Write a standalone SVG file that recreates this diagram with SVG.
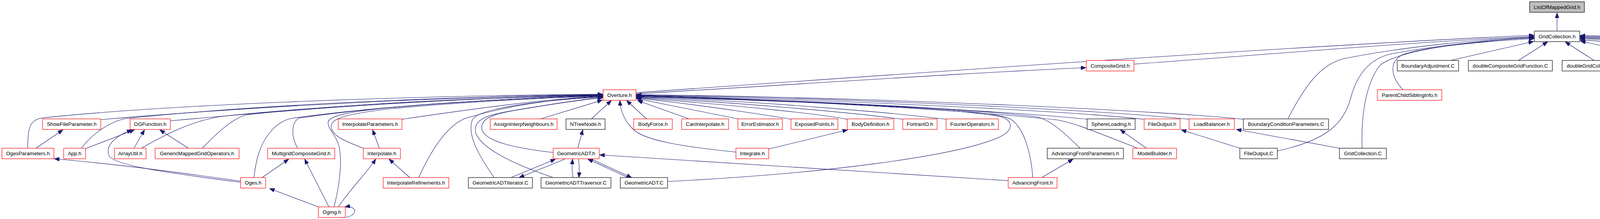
<svg xmlns="http://www.w3.org/2000/svg" width="5423" height="560" viewBox="0 0 5423 560">
<defs>
<marker id="ah" markerUnits="userSpaceOnUse" markerWidth="14" markerHeight="11" refX="13" refY="5" orient="auto">
<path d="M0,0 L13,5 L0,10 z" fill="#191970" stroke="#191970" stroke-width="1"/>
</marker>
<style>
.e{fill:none;stroke:#191970;stroke-width:1.1;marker-end:url(#ah)}
.n rect{fill:#ffffff;stroke-width:1.2}
.r rect{stroke:#ff0000}
.b rect{stroke:#000000}
.g rect{fill:#bfbfbf;stroke:#000000}
.n text{font-family:"Liberation Sans",Arial,Helvetica,sans-serif;font-size:13.3px;fill:#000000;text-anchor:middle}
</style>
</defs>
<rect width="5423" height="560" fill="#ffffff"/>
<g id="edges">
<path class="e" d="M3986,79 L3986,33"/>
<path class="e" d="M1628,237 C2300,190 3300,118 3927,90"/>
<path class="e" d="M1628,240 C2100,212 2500,185 2780,173"/>
<path class="e" d="M2903,164 C3300,135 3650,105 3927,93"/>
<path class="e" d="M3297,304 C3340,220 3380,165 3440,150 C3600,118 3800,100 3927,95"/>
<path class="e" d="M3270,386 C3390,360 3440,320 3458,250 C3475,185 3510,150 3560,138 C3700,112 3850,100 3927,96"/>
<path class="e" d="M3487,379 C3484,300 3495,220 3530,170 C3550,148 3620,130 3700,118 C3800,105 3880,98 3927,97"/>
<path class="e" d="M3591,229 C3560,195 3555,160 3590,140 C3650,118 3820,104 3927,99"/>
<path class="e" d="M3716,154 L3926,106"/>
<path class="e" d="M3888,154 L3962,107"/>
<path class="e" d="M4080,154 L4007,107"/>
<path class="e" d="M4269,154 L4046,105"/>
<path class="e" d="M4454,154 C4350,130 4150,108 4045,102"/>
<path class="e" d="M4672,154 C4500,125 4200,104 4045,99"/>
<path class="e" d="M4884,154 C4700,120 4300,102 4045,97"/>
<path class="e" d="M5090,156 C5050,135 4400,105 4045,95"/>
<path class="e" d="M5194,156 C5150,135 4450,102 4045,93"/>
<path class="e" d="M5333,156 C5300,130 4500,100 4045,91"/>
<path class="e" d="M71,379 C71,330 75,308 105,302 C400,270 1000,245 1543,241"/>
<path class="e" d="M258,306 C500,285 1000,250 1543,241.5"/>
<path class="e" d="M208,379 C230,350 270,315 321,303 C600,275 1000,250 1543,242"/>
<path class="e" d="M436,309 C700,285 1100,252 1543,242.5"/>
<path class="e" d="M362,379 C430,340 500,305 580,296 C800,275 1100,252 1543,243"/>
<path class="e" d="M518,379 C560,335 600,300 634,293 C850,270 1150,252 1543,243.5"/>
<path class="e" d="M650,454 C655,410 665,370 690,340 C710,315 730,305 750,302 C950,275 1200,255 1543,244"/>
<path class="e" d="M762,379 C745,350 745,315 765,302 C950,275 1200,255 1543,244.5"/>
<path class="e" d="M855,529 C868,480 876,420 869,379 C862,345 838,330 840,312 C843,295 900,285 1000,275 C1200,258 1400,248 1543,245"/>
<path class="e" d="M930,379 C880,360 845,345 848,320 C852,300 900,290 1000,278 C1200,260 1400,250 1543,245.5"/>
<path class="e" d="M1029,305 C1200,280 1400,252 1543,246"/>
<path class="e" d="M1072,454 C1110,370 1150,320 1190,303 C1300,270 1420,252 1543,247"/>
<path class="e" d="M1265,454 C1220,390 1195,340 1210,305 C1230,275 1400,255 1543,248"/>
<path class="e" d="M1416,454 C1330,425 1235,385 1218,340 C1210,310 1240,295 1300,285 C1400,268 1480,255 1543,249"/>
<path class="e" d="M1416,390 C1330,380 1250,365 1235,335 C1225,305 1260,292 1320,282 C1420,265 1490,255 1543,250"/>
<path class="e" d="M1384,304 L1542,256"/>
<path class="e" d="M1514,304 L1565,257"/>
<path class="e" d="M1884,389 C1750,375 1650,360 1620,330 C1595,305 1588,280 1587,257"/>
<path class="e" d="M1655,304 L1604,257"/>
<path class="e" d="M1764,304 L1632,257"/>
<path class="e" d="M1889,304 L1629,252"/>
<path class="e" d="M2025,305 C2010,302 1800,268 1629,251"/>
<path class="e" d="M2169,305 C2100,292 1900,270 1629,250"/>
<path class="e" d="M2311,305 C2200,290 1900,262 1629,249"/>
<path class="e" d="M2422,305 C2300,290 1950,258 1629,248"/>
<path class="e" d="M1709,464 C2100,445 2450,400 2560,350 C2600,330 2590,305 2560,298 C2400,270 1900,255 1629,247"/>
<path class="e" d="M2644,454 C2640,400 2625,330 2588,305 C2560,290 2450,280 2300,272 C2000,258 1800,250 1629,246"/>
<path class="e" d="M2765,379 C2730,345 2690,305 2650,298 C2400,270 1900,252 1629,245.5"/>
<path class="e" d="M2912,379 C2800,335 2740,310 2700,306 C2400,275 1900,252 1629,245"/>
<path class="e" d="M2783,305 C2600,285 2000,255 1629,244"/>
<path class="e" d="M2929,305 C2700,280 2100,255 1629,243.5"/>
<path class="e" d="M3044,305 C2800,280 2200,252 1629,243"/>
<path class="e" d="M3183,305 C3000,285 2300,250 1629,242"/>
<path class="e" d="M616,463 C450,440 300,420 139,406"/>
<path class="e" d="M616,466 C450,445 300,425 280,400 C268,375 290,350 338,332"/>
<path class="e" d="M219,380 L344,332"/>
<path class="e" d="M343,379 L370,332"/>
<path class="e" d="M482,379 L409,332"/>
<path class="e" d="M92,379 L161,332"/>
<path class="e" d="M671,454 L739,407"/>
<path class="e" d="M815,529 L690,482"/>
<path class="e" d="M842,529 L780,407"/>
<path class="e" d="M866,529 C900,480 940,440 962,407"/>
<path class="e" d="M870,556 C900,558 910,545 908,538 C905,530 895,527 883,529"/>
<path class="e" d="M971,379 L954,332"/>
<path class="e" d="M1049,454 L996,407"/>
<path class="e" d="M1479,379 L1492,332"/>
<path class="e" d="M1308,454 L1422,407"/>
<path class="e" d="M1446,407 L1329,454"/>
<path class="e" d="M1467,454 C1464,440 1464,425 1466,407"/>
<path class="e" d="M1481,407 C1483,420 1483,440 1482,454"/>
<path class="e" d="M1608,454 L1505,407"/>
<path class="e" d="M1514,407 L1617,454"/>
<path class="e" d="M2581,462 L1535,396"/>
<path class="e" d="M1968,381 L2170,332"/>
<path class="e" d="M2667,454 L2747,407"/>
<path class="e" d="M2935,379 L2868,332"/>
<path class="e" d="M3174,379 L3024,332"/>
<path class="e" d="M3429,379 L3165,331"/>
</g>
<g id="nodes">
<g id="n_ListOfMappedGrid_h" class="n g"><rect x="3916" y="4.5" width="140" height="27"/><text x="3986" y="22.5">ListOfMappedGrid.h</text></g>
<g id="n_GridCollection_h" class="n b"><rect x="3928" y="79.5" width="116" height="27"/><text x="3986" y="97.5">GridCollection.h</text></g>
<g id="n_CompositeGrid_h" class="n r"><rect x="2781" y="154.5" width="122" height="27"/><text x="2842" y="172.5">CompositeGrid.h</text></g>
<g id="n_BoundaryAdjustment_C" class="n b"><rect x="3577" y="154.5" width="157" height="27"/><text x="3655.5" y="172.5">BoundaryAdjustment.C</text></g>
<g id="n_doubleCompositeGridFunction_C" class="n b"><rect x="3759" y="154.5" width="215" height="27"/><text x="3866.5" y="172.5">doubleCompositeGridFunction.C</text></g>
<g id="n_doubleGridCollectionFunction_C" class="n b"><rect x="3999" y="154.5" width="211" height="27"/><text x="4104.5" y="172.5">doubleGridCollectionFunction.C</text></g>
<g id="n_floatCompositeGridFunction_C" class="n b"><rect x="4233" y="154.5" width="200" height="27"/><text x="4333" y="172.5">floatCompositeGridFunction.C</text></g>
<g id="n_floatGridCollectionFunction_C" class="n b"><rect x="4456" y="154.5" width="195" height="27"/><text x="4553.5" y="172.5">floatGridCollectionFunction.C</text></g>
<g id="n_intCompositeGridFunction_C" class="n b"><rect x="4676" y="154.5" width="187" height="27"/><text x="4769.5" y="172.5">intCompositeGridFunction.C</text></g>
<g id="n_intGridCollectionFunction_C" class="n b"><rect x="4887" y="154.5" width="181" height="27"/><text x="4977.5" y="172.5">intGridCollectionFunction.C</text></g>
<g id="n_residual_C" class="n b"><rect x="5092" y="154.5" width="81" height="27"/><text x="5132.5" y="172.5">residual.C</text></g>
<g id="n_contour3dOpt_C" class="n b"><rect x="5196" y="154.5" width="116" height="27"/><text x="5254" y="172.5">contour3dOpt.C</text></g>
<g id="n_PlotStuff_C" class="n b"><rect x="5335" y="154.5" width="82" height="27"/><text x="5376" y="172.5">PlotStuff.C</text></g>
<g id="n_Overture_h" class="n r"><rect x="1544" y="229.5" width="84" height="27"/><text x="1586" y="247.5">Overture.h</text></g>
<g id="n_ParentChildSiblingInfo_h" class="n r"><rect x="3526" y="229.5" width="165" height="27"/><text x="3608.5" y="247.5">ParentChildSiblingInfo.h</text></g>
<g id="n_ShowFileParameter_h" class="n r"><rect x="109" y="304" width="149" height="27"/><text x="183.5" y="322">ShowFileParameter.h</text></g>
<g id="n_OGFunction_h" class="n r"><rect x="333" y="304" width="103" height="27"/><text x="384.5" y="322">OGFunction.h</text></g>
<g id="n_InterpolateParameters_h" class="n r"><rect x="866" y="304" width="163" height="27"/><text x="947.5" y="322">InterpolateParameters.h</text></g>
<g id="n_AssignInterpNeighbours_h" class="n r"><rect x="1255" y="304" width="171" height="27"/><text x="1340.5" y="322">AssignInterpNeighbours.h</text></g>
<g id="n_NTreeNode_h" class="n b"><rect x="1449" y="304" width="100" height="27"/><text x="1499" y="322">NTreeNode.h</text></g>
<g id="n_BodyForce_h" class="n r"><rect x="1622" y="304" width="99" height="27"/><text x="1671.5" y="322">BodyForce.h</text></g>
<g id="n_CanInterpolate_h" class="n r"><rect x="1745" y="304" width="120" height="27"/><text x="1805" y="322">CanInterpolate.h</text></g>
<g id="n_ErrorEstimator_h" class="n r"><rect x="1889" y="304" width="114" height="27"/><text x="1946" y="322">ErrorEstimator.h</text></g>
<g id="n_ExposedPoints_h" class="n r"><rect x="2025" y="304" width="120" height="27"/><text x="2085" y="322">ExposedPoints.h</text></g>
<g id="n_BodyDefinition_h" class="n r"><rect x="2169" y="304" width="119" height="27"/><text x="2228.5" y="322">BodyDefinition.h</text></g>
<g id="n_FortranIO_h" class="n r"><rect x="2311" y="304" width="88" height="27"/><text x="2355" y="322">FortranIO.h</text></g>
<g id="n_FourierOperators_h" class="n r"><rect x="2422" y="304" width="134" height="27"/><text x="2489" y="322">FourierOperators.h</text></g>
<g id="n_SphereLoading_h" class="n b"><rect x="2783" y="304" width="123" height="27"/><text x="2844.5" y="322">SphereLoading.h</text></g>
<g id="n_FileOutput_h" class="n r"><rect x="2929" y="304" width="92" height="27"/><text x="2975" y="322">FileOutput.h</text></g>
<g id="n_LoadBalancer_h" class="n r"><rect x="3044" y="304" width="116" height="27"/><text x="3102" y="322">LoadBalancer.h</text></g>
<g id="n_BoundaryConditionParameters_C" class="n b"><rect x="3183" y="304" width="218" height="27"/><text x="3292" y="322">BoundaryConditionParameters.C</text></g>
<g id="n_OgesParameters_h" class="n r"><rect x="5" y="379" width="133" height="27"/><text x="71.5" y="397">OgesParameters.h</text></g>
<g id="n_App_h" class="n r"><rect x="163" y="379" width="56" height="27"/><text x="191" y="397">App.h</text></g>
<g id="n_ArrayUtil_h" class="n r"><rect x="293" y="379" width="81" height="27"/><text x="333.5" y="397">ArrayUtil.h</text></g>
<g id="n_GenericMappedGridOperators_h" class="n r"><rect x="397" y="379" width="215" height="27"/><text x="504.5" y="397">GenericMappedGridOperators.h</text></g>
<g id="n_MultigridCompositeGrid_h" class="n r"><rect x="685" y="379" width="172" height="27"/><text x="771" y="397">MultigridCompositeGrid.h</text></g>
<g id="n_Interpolate_h" class="n r"><rect x="930" y="379" width="95" height="27"/><text x="977.5" y="397">Interpolate.h</text></g>
<g id="n_GeometricADT_h" class="n r"><rect x="1416" y="379" width="118" height="27"/><text x="1475" y="397">GeometricADT.h</text></g>
<g id="n_Integrate_h" class="n r"><rect x="1884" y="379" width="84" height="27"/><text x="1926" y="397">Integrate.h</text></g>
<g id="n_AdvancingFrontParameters_h" class="n b"><rect x="2681" y="379" width="195" height="27"/><text x="2778.5" y="397">AdvancingFrontParameters.h</text></g>
<g id="n_ModelBuilder_h" class="n r"><rect x="2900" y="379" width="112" height="27"/><text x="2956" y="397">ModelBuilder.h</text></g>
<g id="n_FileOutput_C" class="n b"><rect x="3174" y="379" width="96" height="27"/><text x="3222" y="397">FileOutput.C</text></g>
<g id="n_GridCollection_C" class="n b"><rect x="3429" y="379" width="120" height="27"/><text x="3489" y="397">GridCollection.C</text></g>
<g id="n_Oges_h" class="n r"><rect x="616" y="454" width="64" height="27"/><text x="648" y="472">Oges.h</text></g>
<g id="n_InterpolateRefinements_h" class="n r"><rect x="981" y="454" width="168" height="27"/><text x="1065" y="472">InterpolateRefinements.h</text></g>
<g id="n_GeometricADTIterator_C" class="n b"><rect x="1199" y="454" width="164" height="27"/><text x="1281" y="472">GeometricADTIterator.C</text></g>
<g id="n_GeometricADTTraversor_C" class="n b"><rect x="1385" y="454" width="179" height="27"/><text x="1474.5" y="472">GeometricADTTraversor.C</text></g>
<g id="n_GeometricADT_C" class="n b"><rect x="1588" y="454" width="121" height="27"/><text x="1648.5" y="472">GeometricADT.C</text></g>
<g id="n_AdvancingFront_h" class="n r"><rect x="2581" y="454" width="125" height="27"/><text x="2643.5" y="472">AdvancingFront.h</text></g>
<g id="n_Ogmg_h" class="n r"><rect x="815" y="529" width="69" height="27"/><text x="849.5" y="547">Ogmg.h</text></g>
</g>
</svg>
